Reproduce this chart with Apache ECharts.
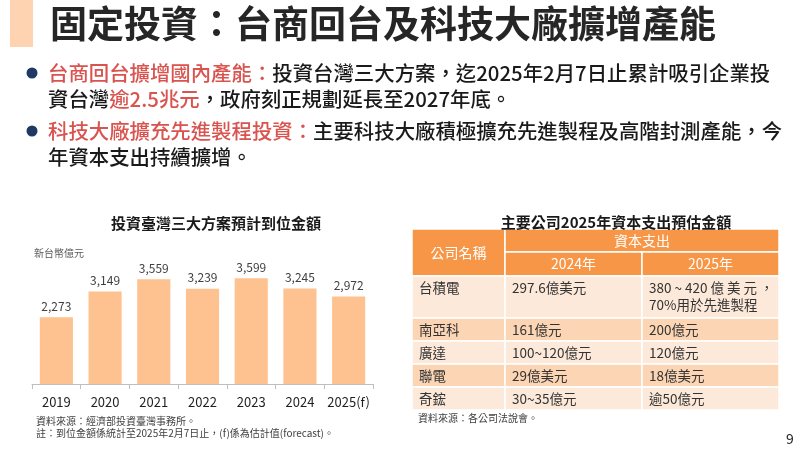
<!DOCTYPE html>
<html><head><meta charset="utf-8">
<script src="https://cdn.jsdelivr.net/npm/echarts@6/dist/echarts.min.js"></script>
<style>html,body{margin:0;padding:0;background:#fff}#c{width:800px;height:449px}</style>
</head><body><div id="c"></div>
<script>
// ---- data ----
const years = ['2019','2020','2021','2022','2023','2024','2025(f)'];
const amounts = [2273, 3149, 3559, 3239, 3599, 3245, 2972];
const companies = ['台積電','南亞科','廣達','聯電','奇鋐'];
const capex2024 = ['297.6億美元','161億元','100~120億元','29億美元','30~35億元'];
const capex2025 = ['380 ~ 420 億 美 元 ，\n70%用於先進製程','200億元','120億元','18億美元','逾50億元'];
const tableHeader = ['公司名稱','資本支出','2024年','2025年'];

// ---- layout ----
const FF = '"Noto Sans CJK TC", "Noto Sans CJK SC", sans-serif';
const colEdges = [0, 93, 230, 367];
const rowEdges = [0, 23, 47, 89, 112, 135, 158, 181];
const C_HEAD = '#F79646', C_LIGHT = '#FDE9D9', C_DARK = '#FCD5B4';

const cells = [];
cells.push({c0:0,c1:1,r0:0,r1:2,text:tableHeader[0],head:true});
cells.push({c0:1,c1:3,r0:0,r1:1,text:tableHeader[1],head:true});
cells.push({c0:1,c1:2,r0:1,r1:2,text:tableHeader[2],head:true});
cells.push({c0:2,c1:3,r0:1,r1:2,text:tableHeader[3],head:true});
companies.forEach((name, i) => {
  const r = i + 2, fill = i % 2 === 0 ? C_LIGHT : C_DARK;
  cells.push({c0:0,c1:1,r0:r,r1:r+1,text:name,fill});
  cells.push({c0:1,c1:2,r0:r,r1:r+1,text:capex2024[i],fill});
  cells.push({c0:2,c1:3,r0:r,r1:r+1,text:capex2025[i],fill});
});

const chart = echarts.init(document.getElementById('c'), null, {renderer:'canvas'});

function txt(x, y, text, size, color, weight, align) {
  return {type:'text', x, y, silent:true, style:{text, fill:color, font:(weight||'normal')+' '+size+'px '+FF, textAlign:align||'left', textVerticalAlign:'middle'}};
}
const BW = 500, BS = 20.4;
function rtxt(x, y, text) {
  return {type:'text', x, y, silent:true, style:{text, textVerticalAlign:'middle',
    font:BW+' '+BS+'px '+FF,
    rich:{
      r:{fill:'#D9534F', fontSize:BS, fontFamily:FF, fontWeight:BW},
      k:{fill:'#1a1a1a', fontSize:BS, fontFamily:FF, fontWeight:BW}
    }}};
}

const option = {
  backgroundColor:'#ffffff',
  animation:false,
  textStyle:{fontFamily:FF},
  title:[
    {text:'投資臺灣三大方案預計到位金額', left:211, top:211, textAlign:'center',
     textStyle:{fontSize:15, fontWeight:'bold', color:'#1a1a1a', fontFamily:FF}},
    {text:'主要公司2025年資本支出預估金額', left:611, top:210, textAlign:'center',
     textStyle:{fontSize:15, fontWeight:'bold', color:'#1a1a1a', fontFamily:FF}}
  ],
  grid:[
    {left:32, top:237, width:341, height:147},
    {left:412, top:229, width:367, height:181}
  ],
  xAxis:[
    {type:'category', gridIndex:0, data:years,
     axisLine:{lineStyle:{color:'#BFBFBF'}},
     axisTick:{show:true, length:5, lineStyle:{color:'#BFBFBF'}},
     axisLabel:{color:'#1f1f1f', fontSize:13, margin:12, interval:0, fontFamily:FF}},
    {type:'value', gridIndex:1, min:0, max:colEdges[3], show:false}
  ],
  yAxis:[
    {type:'value', gridIndex:0, min:0, max:5000, show:false},
    {type:'value', gridIndex:1, min:0, max:rowEdges[rowEdges.length-1], inverse:true, show:false}
  ],
  series:[
    {type:'bar', xAxisIndex:0, yAxisIndex:0, data:amounts, barWidth:'68%',
     itemStyle:{color:'#FEC291'},
     label:{show:true, position:'top', distance:5, color:'#404040', fontSize:12, fontFamily:FF,
       formatter:p=>p.value.toLocaleString('en-US')}},
    {type:'custom', xAxisIndex:1, yAxisIndex:1, clip:false,
     data:cells.map(c=>[colEdges[c.c0], rowEdges[c.r0], colEdges[c.c1], rowEdges[c.r1]]),
     renderItem:(params, api)=>{
       const c = cells[params.dataIndex];
       const p0 = api.coord([api.value(0), api.value(1)]);
       const p1 = api.coord([api.value(2), api.value(3)]);
       const w = p1[0]-p0[0], h = p1[1]-p0[1];
       const children = [{type:'rect', shape:{x:p0[0], y:p0[1], width:w, height:h},
         style:{fill:c.head?C_HEAD:c.fill, stroke:'#ffffff', lineWidth:1.5}}];
       if (c.head) {
         children.push({type:'text', x:p0[0]+w/2, y:p0[1]+h/2,
           style:{text:c.text, fill:'#ffffff', font:'14px '+FF, textAlign:'center', textVerticalAlign:'middle'}});
       } else {
         children.push({type:'text', x:p0[0]+7, y:p0[1]+3,
           style:{text:c.text, fill:'#333333', font:'13.5px '+FF, textAlign:'left', textVerticalAlign:'top', lineHeight:17}});
       }
       return {type:'group', children};
     }}
  ],
  graphic:[
    {type:'rect', shape:{x:10, y:0, width:23, height:47}, style:{fill:'#FDD3B2'}, silent:true},
    txt(50, 24, '固定投資：台商回台及科技大廠擴增產能', 37, '#262626', 'bold'),
    {type:'circle', shape:{cx:32, cy:73, r:5.5}, style:{fill:'#1F3864'}, silent:true},
    rtxt(48, 73, '{r|台商回台擴增國內產能：}{k|投資台灣三大方案，迄2025年2月7日止累計吸引企業投}'),
    rtxt(48, 99, '{k|資台灣}{r|逾2.5兆元}{k|，政府刻正規劃延長至2027年底。}'),
    {type:'circle', shape:{cx:32, cy:131, r:5.5}, style:{fill:'#1F3864'}, silent:true},
    rtxt(48, 131, '{r|科技大廠擴充先進製程投資：}{k|主要科技大廠積極擴充先進製程及高階封測產能，今}'),
    rtxt(48, 157, '{k|年資本支出持續擴增。}'),
    txt(34, 253, '新台幣億元', 10, '#595959'),
    txt(36, 421, '資料來源：經濟部投資臺灣事務所。', 10, '#404040'),
    txt(36, 433, '註：到位金額係統計至2025年2月7日止，(f)係為估計值(forecast)。', 10, '#404040'),
    txt(418, 418, '資料來源：各公司法說會。', 10, '#404040'),
    txt(790, 439, '9', 14, '#262626', 'normal', 'center')
  ]
};
chart.setOption(option);
</script>
</body></html>
